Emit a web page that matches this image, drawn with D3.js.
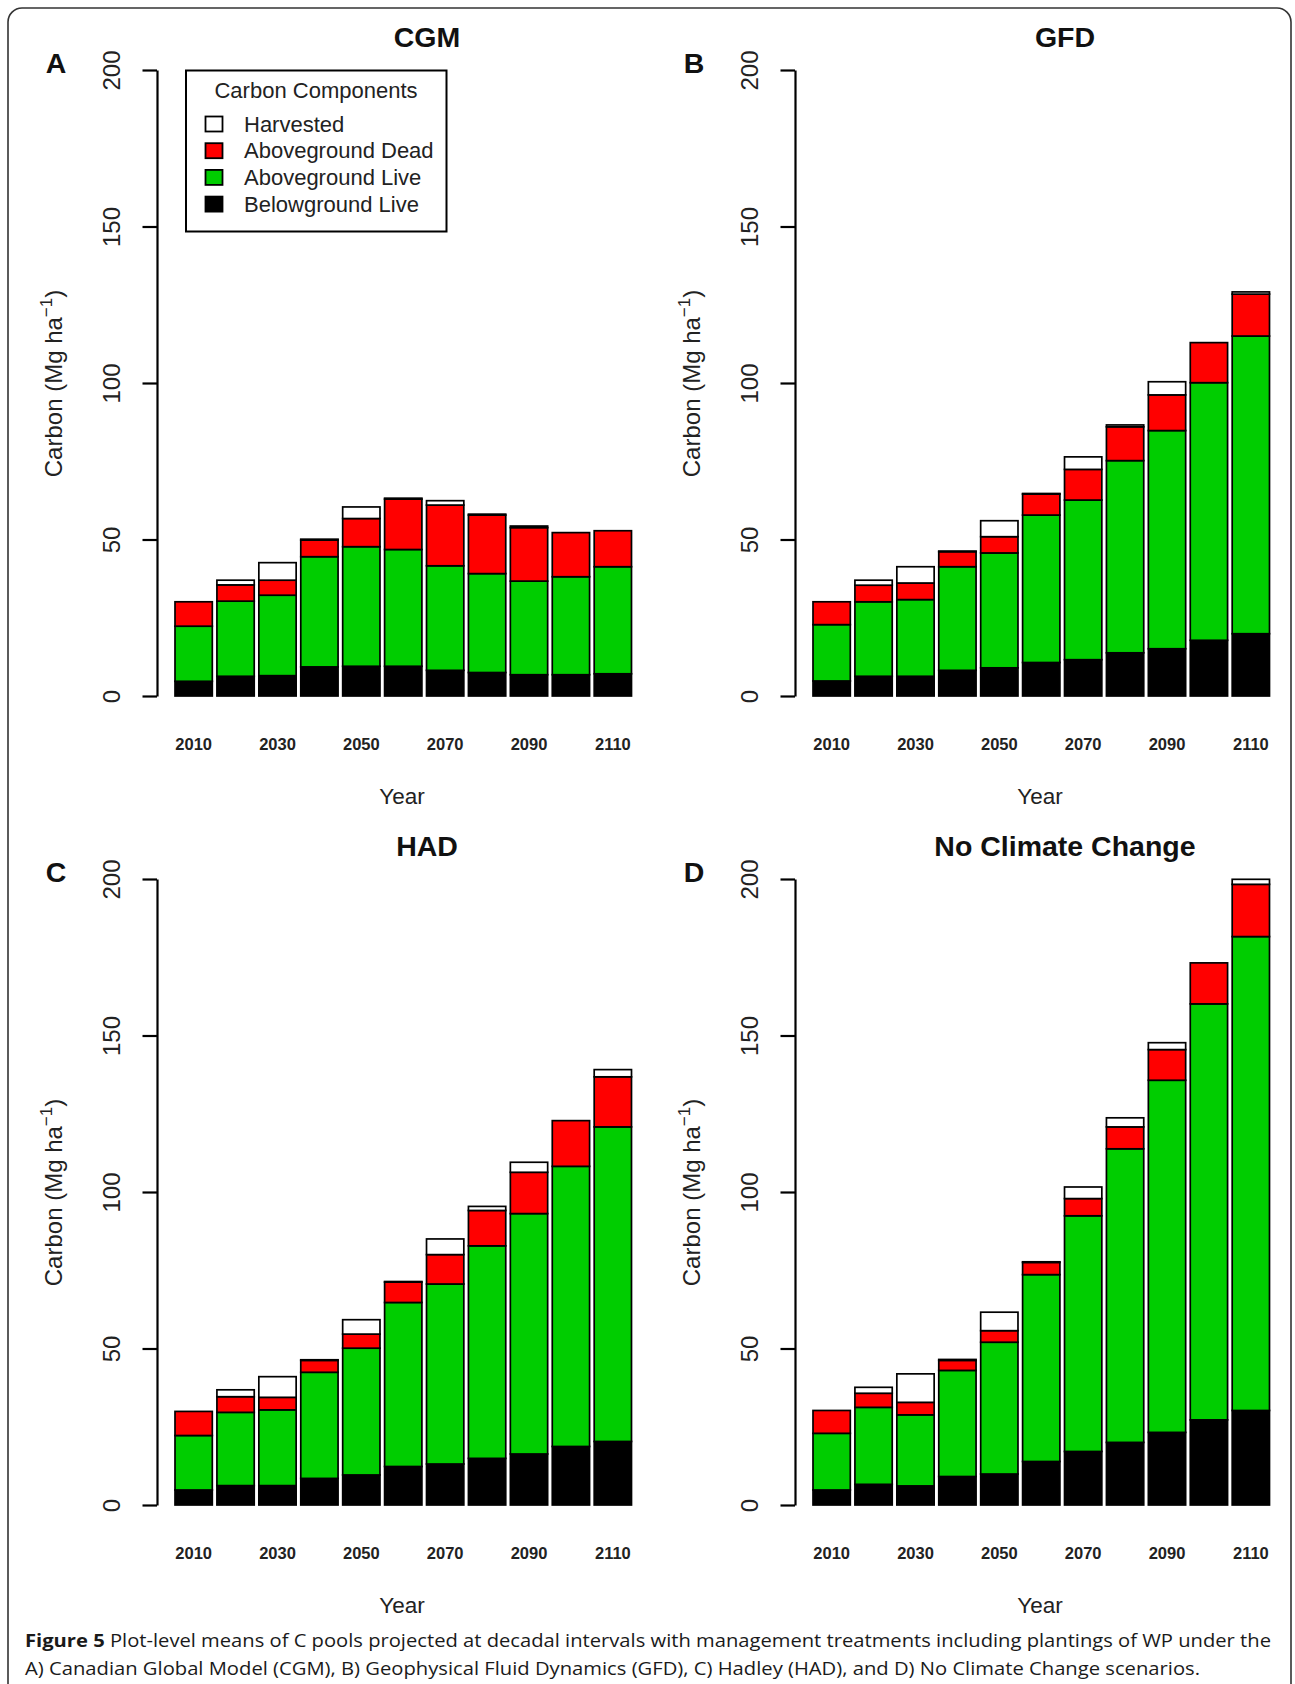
<!DOCTYPE html>
<html><head><meta charset="utf-8">
<script src="https://cdn.jsdelivr.net/npm/d3@7"></script>
<style>body{margin:0;background:#fff} svg{display:block}</style>
</head><body>
<svg id="chart" width="1295" height="1684"></svg>
<script>
// ---------------- data ----------------
const years = [2010,2020,2030,2040,2050,2060,2070,2080,2090,2100,2110];
const components = ["Harvested","Aboveground Dead","Aboveground Live","Belowground Live"];
const componentColors = ["#ffffff","#ff0000","#00cd00","#000000"];
const panelTitles = ["CGM","GFD","HAD","No Climate Change"];
const panelLetters = ["A","B","C","D"];
const yTickValues = [0,50,100,150,200];
const xTickLabels = [2010,2030,2050,2070,2090,2110];

// CGM
const cgmBelow = [4.7,6.3,6.5,9.3,9.5,9.5,8.2,7.5,6.8,6.8,7.1];
const cgmLive  = [17.6,24.0,25.7,35.2,38.2,37.3,33.4,31.6,29.9,31.3,34.2];
const cgmDead  = [7.8,5.2,4.8,5.3,9.0,16.1,19.4,18.7,17.1,14.1,11.5];
const cgmHarv  = [0,1.5,5.6,0.3,3.7,0.3,1.4,0.3,0.5,0,0];
// GFD
const gfdBelow = [4.8,6.3,6.3,8.2,9.0,10.7,11.6,13.8,15.1,17.8,19.9];
const gfdLive  = [18.0,23.8,24.5,33.1,36.7,47.1,51.0,61.4,69.7,82.3,95.1];
const gfdDead  = [7.3,5.3,5.3,4.8,5.2,6.7,9.8,10.8,11.4,12.8,13.4];
const gfdHarv  = [0,1.6,5.2,0.2,5.1,0.2,4.0,0.6,4.2,0,0.7];
// HAD
const hadBelow = [4.8,6.2,6.2,8.5,9.6,12.3,13.1,14.9,16.3,18.7,20.3];
const hadLive  = [17.4,23.4,24.2,33.9,40.5,52.4,57.5,67.9,76.8,89.5,100.5];
const hadDead  = [7.7,5.0,4.0,3.8,4.5,6.5,9.4,11.3,13.2,14.6,16.0];
const hadHarv  = [0,2.2,6.6,0.2,4.6,0.2,5.0,1.3,3.2,0,2.3];
// No Climate Change
const nccBelow = [4.8,6.6,6.1,9.1,9.9,13.9,17.1,20.0,23.2,27.2,30.2];
const nccLive  = [18.1,24.6,22.7,33.9,42.1,59.7,75.3,93.8,112.5,132.9,151.4];
const nccDead  = [7.3,4.5,4.0,3.2,3.7,3.9,5.5,7.0,9.8,13.1,16.7];
const nccHarv  = [0,1.9,9.1,0.3,5.9,0.2,3.7,2.9,2.2,0,1.6];

const panelData = [
  [cgmBelow,cgmLive,cgmDead,cgmHarv],
  [gfdBelow,gfdLive,gfdDead,gfdHarv],
  [hadBelow,hadLive,hadDead,hadHarv],
  [nccBelow,nccLive,nccDead,nccHarv]
];

// ---------------- layout ----------------
const svg = d3.select("#chart");
const FONT = "'Liberation Sans', Arial, Helvetica, sans-serif";
const offsets = [[0,0],[638,0],[0,809],[638,809]];
const keys = ["below","live","dead","harv"];
const keyColor = {below:"#000000", live:"#00cd00", dead:"#ff0000", harv:"#ffffff"};

const x = d3.scaleBand().domain(years).range([175, 631.5]).paddingInner(0.11).paddingOuter(0);
const y = d3.scaleLinear().domain([0,200]).range([696, 70]);

// outer frame
svg.append("rect").attr("x",8).attr("y",8).attr("width",1283).attr("height",1720)
  .attr("rx",14).attr("fill","none").attr("stroke","#333").attr("stroke-width",1.6);

panelData.forEach((series, pi) => {
  const g = svg.append("g").attr("transform", `translate(${offsets[pi][0]},${offsets[pi][1]})`);
  const rows = years.map((yr,i) => ({year:yr, below:series[0][i], live:series[1][i], dead:series[2][i], harv:series[3][i]}));
  const stacked = d3.stack().keys(keys)(rows);

  stacked.forEach(layer => {
    g.append("g").selectAll("rect")
      .data(layer.filter(d => d[1]-d[0] > 0))
      .join("rect")
      .attr("x", d => x(d.data.year))
      .attr("width", x.bandwidth())
      .attr("y", d => y(d[1]))
      .attr("height", d => y(d[0]) - y(d[1]))
      .attr("fill", keyColor[layer.key])
      .attr("stroke", "#000")
      .attr("stroke-width", 1.7);
  });

  // y axis
  const ya = g.append("g").attr("transform","translate(157,0)")
    .call(d3.axisLeft(y).tickValues(yTickValues).tickSize(14.5).tickSizeOuter(0));
  ya.select(".domain").attr("stroke","#000").attr("stroke-width",2.2);
  ya.selectAll(".tick line").attr("stroke","#000").attr("stroke-width",2.2);
  ya.selectAll(".tick text")
    .attr("transform","rotate(-90)")
    .attr("x",0).attr("y",-37).attr("dy",null)
    .attr("text-anchor","middle")
    .attr("font-family",FONT).attr("font-size",24).attr("fill","#222");

  // x axis labels
  const xa = g.append("g").attr("transform","translate(0,696)")
    .call(d3.axisBottom(x).tickValues(xTickLabels).tickSize(0));
  xa.select(".domain").remove();
  xa.selectAll(".tick text")
    .attr("y",54).attr("dy",null)
    .attr("font-family",FONT).attr("font-size",16.5).attr("fill","#222")
    .attr("font-weight","bold");

  // x axis title
  g.append("text").attr("x",402).attr("y",803.5).attr("text-anchor","middle")
    .attr("font-family",FONT).attr("font-size",22.5).attr("fill","#222").text("Year");

  // y axis title
  const yt = g.append("text").attr("transform","translate(62,383.5) rotate(-90)")
    .attr("text-anchor","middle").attr("font-family",FONT).attr("font-size",24).attr("fill","#222");
  yt.append("tspan").text("Carbon (Mg ha");
  yt.append("tspan").attr("dy",-10).attr("font-size",17).text("−1");
  yt.append("tspan").attr("dy",10).text(")");

  // title
  g.append("text").attr("x",427).attr("y",47).attr("text-anchor","middle")
    .attr("font-family",FONT).attr("font-size",28.5).attr("font-weight","bold").attr("fill","#111")
    .text(panelTitles[pi]);
  // letter
  g.append("text").attr("x",56).attr("y",73).attr("text-anchor","middle")
    .attr("font-family",FONT).attr("font-size",28.5).attr("font-weight","bold").attr("fill","#111")
    .text(panelLetters[pi]);

  // legend (panel A only)
  if (pi === 0) {
    const lg = g.append("g");
    lg.append("rect").attr("x",186).attr("y",70.5).attr("width",260.5).attr("height",161)
      .attr("fill","#fff").attr("stroke","#000").attr("stroke-width",2);
    lg.append("text").attr("x",316).attr("y",97.5).attr("text-anchor","middle")
      .attr("font-family",FONT).attr("font-size",22).attr("fill","#222").text("Carbon Components");
    components.forEach((c,i) => {
      const cy = 124 + i*26.7;
      lg.append("rect").attr("x",205.5).attr("y",cy-7.5).attr("width",17).attr("height",15)
        .attr("fill",componentColors[i]).attr("stroke","#000").attr("stroke-width",1.8);
      lg.append("text").attr("x",244).attr("y",cy+7.5)
        .attr("font-family",FONT).attr("font-size",22).attr("fill","#222").text(c);
    });
  }
});

// caption
const CAP = "'Open Sans', 'Noto Sans', sans-serif";
const c1 = svg.append("text").attr("x",25).attr("y",1647)
  .attr("font-family",CAP).attr("font-size",18.5).attr("fill","#1a1a1a")
  .attr("textLength",1246).attr("lengthAdjust","spacingAndGlyphs");
c1.append("tspan").attr("font-weight","bold").text("Figure 5");
c1.append("tspan").text(" Plot-level means of C pools projected at decadal intervals with management treatments including plantings of WP under the");
svg.append("text").attr("x",25).attr("y",1674.5)
  .attr("font-family",CAP).attr("font-size",18.5).attr("fill","#1a1a1a")
  .attr("textLength",1175).attr("lengthAdjust","spacingAndGlyphs")
  .text("A) Canadian Global Model (CGM), B) Geophysical Fluid Dynamics (GFD), C) Hadley (HAD), and D) No Climate Change scenarios.");
</script>
</body></html>
